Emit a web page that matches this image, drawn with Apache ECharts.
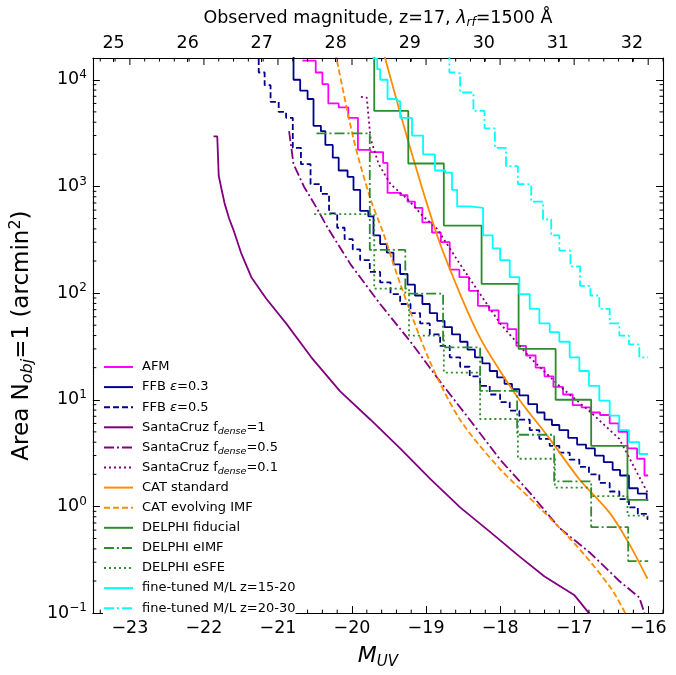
<!DOCTYPE html>
<html><head><meta charset="utf-8">
<script src="https://cdn.jsdelivr.net/npm/echarts@6/dist/echarts.min.js"></script>
<style>html,body{margin:0;padding:0;background:#fff}#c{width:676px;height:675px}</style>
</head><body><div id="c"></div>
<script>
// ---------------- data (M_UV, area in arcmin^2) ----------------
const afmM = [-20.67,-20.49,-20.40,-20.32,-20.18,-20.05,-19.92,-19.75,-19.58,-19.52,-19.35,-19.25,-19.15,-19.05,-18.92,-18.80,-18.68,-18.55,-18.42,-18.30,-18.15,-18.02,-17.90,-17.78,-17.65,-17.52,-17.40,-17.28,-17.15,-17.02,-16.90,-16.78,-16.65,-16.52,-16.40,-16.28,-16.15,-16.05,-16.00];
const afmA = [15100,11700,9100,6000,5500,4400,2200,2100,1660,870,830,720,630,460,370,300,166,141,105,76,69,52,46,32,26,20,16.6,13.2,11.2,8.9,8.5,7.6,7.2,6.0,5.0,3.5,2.8,1.95,1.95];

const ffb03M = [-20.85,-20.79,-20.70,-20.60,-20.52,-20.42,-20.36,-20.26,-20.18,-20.06,-19.98,-19.89,-19.78,-19.71,-19.62,-19.53,-19.44,-19.35,-19.25,-19.15,-19.05,-18.95,-18.85,-18.75,-18.65,-18.54,-18.44,-18.34,-18.24,-18.14,-18.04,-17.94,-17.84,-17.74,-17.62,-17.50,-17.40,-17.30,-17.20,-17.08,-16.96,-16.84,-16.72,-16.60,-16.48,-16.38,-16.26,-16.14,-16.02,-16.00];
const ffb03A = [17800,10000,7900,6600,3700,3300,2450,1860,1410,1230,930,590,525,347,288,240,186,151,120,95,79,65,55,48,41,35,29.5,25,21.9,18.6,16.2,14.1,12.6,11.0,9.1,7.6,6.5,5.8,5.2,4.4,3.8,3.5,3.0,2.6,2.2,1.95,1.48,1.32,1.15,1.15];

const ffb05M = [-21.30,-21.26,-21.18,-21.10,-20.99,-20.89,-20.80,-20.69,-20.56,-20.42,-20.31,-20.20,-20.10,-19.99,-19.89,-19.76,-19.62,-19.48,-19.35,-19.21,-19.08,-18.95,-18.81,-18.68,-18.54,-18.41,-18.27,-18.14,-18.00,-17.87,-17.74,-17.60,-17.47,-17.33,-17.20,-17.06,-16.93,-16.80,-16.66,-16.52,-16.39,-16.26,-16.14,-16.01,-16.00];
const ffb05A = [17800,11700,8900,6200,5000,4400,2300,1620,1050,850,560,410,320,257,204,158,126,98,79,65,52,41,32,25,20.4,16.6,13.5,11.2,9.5,7.9,6.5,5.2,4.3,3.7,3.2,2.75,2.35,2.0,1.66,1.38,1.17,0.98,0.85,0.76,0.76];

const sc1M = [-21.87,-21.82,-21.80,-21.77,-21.72,-21.66,-21.60,-21.50,-21.36,-21.16,-20.89,-20.55,-20.16,-19.75,-19.35,-18.94,-18.54,-18.14,-17.74,-17.40,-17.00,-16.80,-16.75];
const sc1A = [2950,2950,1260,1000,690,500,390,240,141,89,52,25,12,6.5,3.5,1.8,0.98,0.58,0.34,0.22,0.148,0.1,0.09];

const sc05M = [-20.85,-20.79,-20.65,-20.49,-20.32,-20.02,-19.62,-19.21,-18.81,-18.41,-18.00,-17.60,-17.20,-16.79,-16.39,-16.12,-16.05];
const sc05A = [3300,1620,1000,650,400,186,79,35,14.8,6.5,2.75,1.35,0.63,0.37,0.2,0.14,0.1];

const sc01M = [-19.88,-19.80,-19.75,-19.64,-19.48,-19.25,-19.04,-18.85,-18.54,-18.27,-18.00,-17.60,-17.20,-16.80,-16.39,-16.01];
const sc01A = [6900,6800,2800,1620,1050,760,525,400,186,98,52,25,13.5,7.9,4.3,1.35];

const catM = [-19.60,-19.215,-18.85,-18.54,-18.27,-18.00,-17.73,-17.33,-16.93,-16.52,-16.26,-16.01];
const catA = [21000,2300,347,98,38,18.6,9.8,4.3,1.8,0.87,0.45,0.21];

const catEvM = [-20.25,-19.98,-19.75,-19.58,-19.35,-18.95,-18.54,-18.00,-17.47,-16.93,-16.50,-16.31];
const catEvA = [22000,2800,760,370,123,23,6.5,2.24,0.98,0.40,0.17,0.1];

const delFidM = [-19.70,-19.70,-19.24,-18.76,-18.25,-17.75,-17.25,-16.77,-16.28,-16.00];
const delFidA = [100000,5100,1640,430,122,30,10,3.7,1.15,1.15];

const delImfM = [-20.48,-19.76,-19.28,-18.77,-18.27,-17.77,-17.27,-16.77,-16.27,-16.00];
const delImfA = [3150,254,99,31,12.1,4.7,1.72,0.64,0.307,0.307];

const delSfeM = [-20.51,-19.70,-19.23,-18.76,-18.27,-17.76,-17.26,-16.77,-16.28,-16.00];
const delSfeA = [550,110,40,18,6.6,2.8,1.5,1.25,0.82,0.82];

const ft1520M = [-19.82,-19.71,-19.66,-19.62,-19.52,-19.39,-19.35,-19.19,-19.04,-18.88,-18.74,-18.65,-18.58,-18.41,-18.23,-18.10,-18.00,-17.87,-17.74,-17.60,-17.47,-17.33,-17.20,-17.06,-16.93,-16.80,-16.66,-16.52,-16.39,-16.26,-16.12,-16.00];
const ft1520A = [17800,15800,12600,10000,6600,6300,4400,3000,2000,1410,1350,930,650,630,347,263,204,141,98,71,52,43,35,25,18.6,13.5,9.8,7.1,5.2,4.0,3.1,3.1];

const ft2030M = [-18.72,-18.685,-18.61,-18.54,-18.36,-18.21,-18.07,-17.92,-17.76,-17.58,-17.42,-17.31,-17.20,-17.05,-16.92,-16.78,-16.66,-16.52,-16.39,-16.26,-16.12,-16.00];
const ft2030A = [17800,11700,11500,7600,5100,3500,2300,1550,1050,720,490,347,250,178,117,95,71,52,40,33,25,25];

// tick labels / axes
const xMin = -23.5, xMax = -15.8;
const yMin = 0.1, yMax = 16000;
const magOffset = 48.22; // observed magnitude = M_UV + offset

// ---------------- chart ----------------
const FONT = 'DejaVu Sans';
const pairs = (xs, ys) => xs.map((x, i) => [x, ys[i]]);

const seriesDefs = [
  {name:'AFM', legend:'AFM', M:afmM, A:afmA, color:'#ff00ff', type:'solid', step:'end'},
  {name:'FFB e=0.3', legend:'FFB {it|ε}=0.3', M:ffb03M, A:ffb03A, color:'#00008b', type:'solid', step:'end'},
  {name:'FFB e=0.5', legend:'FFB {it|ε}=0.5', M:ffb05M, A:ffb05A, color:'#00008b', type:[6,3], step:'end'},
  {name:'SC1', legend:'SantaCruz f{sub|dense}=1', M:sc1M, A:sc1A, color:'#800080', type:'solid', step:false},
  {name:'SC05', legend:'SantaCruz f{sub|dense}=0.5', M:sc05M, A:sc05A, color:'#800080', type:[10,3,2,3], step:false},
  {name:'SC01', legend:'SantaCruz f{sub|dense}=0.1', M:sc01M, A:sc01A, color:'#800080', type:[2,3], step:false},
  {name:'CAT standard', legend:'CAT standard', M:catM, A:catA, color:'#ff8c00', type:'solid', step:false, smooth:true},
  {name:'CAT evolving IMF', legend:'CAT evolving IMF', M:catEvM, A:catEvA, color:'#ff8c00', type:[6,3], step:false, smooth:true},
  {name:'DELPHI fiducial', legend:'DELPHI fiducial', M:delFidM, A:delFidA, color:'#2e8b2e', type:'solid', step:'end'},
  {name:'DELPHI eIMF', legend:'DELPHI eIMF', M:delImfM, A:delImfA, color:'#2e8b2e', type:[10,3,2,3], step:'end'},
  {name:'DELPHI eSFE', legend:'DELPHI eSFE', M:delSfeM, A:delSfeA, color:'#2e8b2e', type:[2,3], step:'end'},
  {name:'ft1520', legend:'fine-tuned M/L z=15-20', M:ft1520M, A:ft1520A, color:'#00ffff', type:'solid', step:'end'},
  {name:'ft2030', legend:'fine-tuned M/L z=20-30', M:ft2030M, A:ft2030A, color:'#00ffff', type:[10,3,2,3], step:'end'}
];
const legendText = {};
seriesDefs.forEach(d => legendText[d.name] = d.legend);

const lineSeries = seriesDefs.map(d => ({
  name: d.name, type: 'line', data: pairs(d.M, d.A),
  step: d.step, smooth: d.smooth ? 0.3 : false, symbol: 'none', showSymbol: false,
  clip: true, xAxisIndex: 0, yAxisIndex: 0,
  lineStyle: {color: d.color, width: 1.8, type: d.type},
  itemStyle: {color: d.color},
  emphasis: {disabled: true}
}));

// tick marks (mirrored / minor) drawn through axes
const xMajorTop = [];
for (let v = -23; v <= -16; v++) xMajorTop.push(v);
const xMinor = [];
for (let k = -117; k <= -79; k++) { if (k % 5 !== 0) xMinor.push(k / 5); }
const yMinor = [];
for (let e = -1; e <= 4; e++) for (let k = 2; k <= 9; k++) { const v = k * Math.pow(10, e); if (v < yMax) yMinor.push(+v.toPrecision(3)); }

const tickStyle = {stroke: '#000', lineWidth: 1, fill: null};
const xTickData = xMajorTop.map(v => [v, 1, 7, 1]).concat(xMinor.map(v => [v, 1, 3.5, 0]));
const yTickData = yMinor.map(v => [-20, v, 3.5]);

const xTickSeries = {
  type: 'custom', name: '_xt', silent: true, z: 5, data: xTickData, encode: {x: 0, y: 1},
  renderItem(params, api) {
    const cs = params.coordSys;
    const x = api.coord([api.value(0), 1])[0];
    const len = api.value(2);
    const ch = [{type: 'line', shape: {x1: x, y1: cs.y, x2: x, y2: cs.y + len}, style: tickStyle}];
    if (api.value(3) === 0) ch.push({type: 'line', shape: {x1: x, y1: cs.y + cs.height, x2: x, y2: cs.y + cs.height - len}, style: tickStyle});
    return {type: 'group', children: ch};
  }
};
const yTickSeries = {
  type: 'custom', name: '_yt', silent: true, z: 5, data: yTickData, encode: {x: 0, y: 1},
  renderItem(params, api) {
    const cs = params.coordSys;
    const y = api.coord([-20, api.value(1)])[1];
    const len = api.value(2);
    return {type: 'group', children: [
      {type: 'line', shape: {x1: cs.x, y1: y, x2: cs.x + len, y2: y}, style: tickStyle},
      {type: 'line', shape: {x1: cs.x + cs.width - len, y1: y, x2: cs.x + cs.width, y2: y}, style: tickStyle}
    ]};
  }
};

const isInt = v => Math.abs(v - Math.round(v)) < 1e-6;
const minus = v => (v < 0 ? '\u2212' + Math.abs(v) : String(v));
const axisLineStyle = {show: true, lineStyle: {color: '#000', width: 1.1}};

const option = {
  animation: false,
  backgroundColor: '#fff',
  grid: {left: 92, right: 13, top: 58, bottom: 47, containLabel: false},
  xAxis: [
    {
      type: 'value', position: 'bottom', min: xMin, max: xMax, splitNumber: 8,
      axisLine: axisLineStyle, splitLine: {show: false},
      axisTick: {inside: true, length: 7, lineStyle: {color: '#000', width: 1}},
      axisLabel: {margin: 6, color: '#000', fontSize: 17.5, fontFamily: FONT,
        formatter: v => (isInt(v) ? minus(Math.round(v)) : '')},
      name: '{it|M}{sub|UV}', nameLocation: 'middle', nameGap: 24,
      nameTextStyle: {fontFamily: FONT, color: '#000', fontSize: 22, lineHeight: 28,
        rich: {it: {fontStyle: 'italic', fontSize: 22, fontFamily: FONT, color: '#000'},
               sub: {fontStyle: 'italic', fontSize: 15, fontFamily: FONT, color: '#000', verticalAlign: 'bottom', lineHeight: 16}}}
    },
    {
      type: 'value', position: 'top', min: xMin + magOffset, max: xMax + magOffset, splitNumber: 8,
      axisLine: axisLineStyle, splitLine: {show: false},
      axisTick: {inside: true, length: 4, lineStyle: {color: '#000', width: 1}},
      axisLabel: {margin: 6, color: '#000', fontSize: 17.5, fontFamily: FONT,
        formatter: v => (isInt(v) ? String(Math.round(v)) : '')},
      name: 'Observed magnitude, z=17, {it|λ}{sub|rf}=1500 Å', nameLocation: 'middle', nameGap: 27,
      nameTextStyle: {fontFamily: FONT, color: '#000', fontSize: 17.5, lineHeight: 22,
        rich: {it: {fontStyle: 'italic', fontSize: 17.5, fontFamily: FONT, color: '#000'},
               sub: {fontStyle: 'italic', fontSize: 12, fontFamily: FONT, color: '#000', verticalAlign: 'bottom', lineHeight: 13}}}
    }
  ],
  yAxis: [
    {
      type: 'log', logBase: 10, position: 'left', min: yMin, max: yMax,
      axisLine: axisLineStyle, splitLine: {show: false},
      axisTick: {inside: true, length: 7, lineStyle: {color: '#000', width: 1}},
      axisLabel: {margin: 6, color: '#000', fontSize: 17.5, fontFamily: FONT, lineHeight: 22,
        formatter: v => { const e = Math.log10(v); return isInt(e) ? '10{sup|' + minus(Math.round(e)) + '}' : ''; },
        rich: {sup: {fontSize: 12, fontFamily: FONT, color: '#000', verticalAlign: 'top', lineHeight: 13}}},
      name: 'Area N{sub|obj}=1 (arcmin{sup|2})', nameLocation: 'middle', nameGap: 52, nameRotate: 90,
      nameTextStyle: {fontFamily: FONT, color: '#000', fontSize: 23, lineHeight: 28,
        rich: {sub: {fontStyle: 'italic', fontSize: 16, fontFamily: FONT, color: '#000', verticalAlign: 'bottom', lineHeight: 16},
               sup: {fontSize: 16, fontFamily: FONT, color: '#000', verticalAlign: 'top', lineHeight: 16}}}
    },
    {
      type: 'log', logBase: 10, position: 'right', min: yMin, max: yMax,
      axisLine: axisLineStyle, splitLine: {show: false},
      axisTick: {inside: true, length: 7, lineStyle: {color: '#000', width: 1}},
      axisLabel: {show: false}
    }
  ],
  legend: {
    data: seriesDefs.map(d => d.name), orient: 'vertical', left: 103, top: 358, padding: 0,
    itemWidth: 29, itemHeight: 14, itemGap: 2.1, selectedMode: false,
    backgroundColor: '#fff', z: 10,
    itemStyle: {opacity: 0},
    formatter: n => legendText[n],
    textStyle: {fontSize: 13, fontFamily: FONT, color: '#000', lineHeight: 18, padding: [0, 0, 0, 4],
      rich: {sub: {fontSize: 9.5, fontStyle: 'italic', fontFamily: FONT, color: '#000', verticalAlign: 'bottom', lineHeight: 12},
             it: {fontSize: 13, fontStyle: 'italic', fontFamily: FONT, color: '#000'}}}
  },
  series: lineSeries.concat([xTickSeries, yTickSeries])
};

const chart = echarts.init(document.getElementById('c'));
chart.setOption(option);
</script>
</body></html>
